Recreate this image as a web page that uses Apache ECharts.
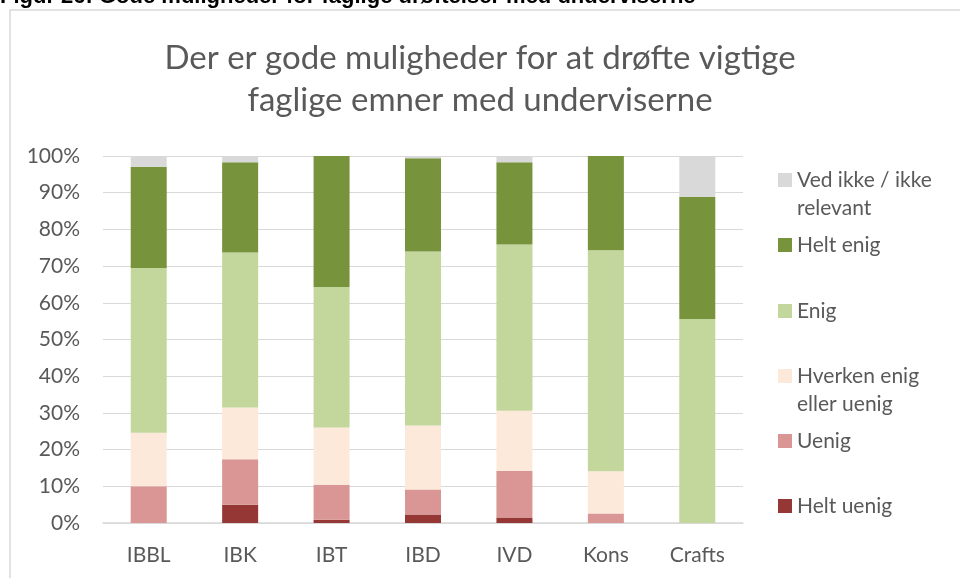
<!DOCTYPE html>
<html lang="da">
  <head>
    <meta charset="UTF-8" />
    <title>Gode muligheder for faglige drøftelser</title>
    <script src="https://cdn.jsdelivr.net/npm/echarts@6/dist/echarts.min.js"></script>
    <style>
      html, body { margin: 0; padding: 0; background: #fff; }
      #main { width: 960px; height: 578px; }
    </style>
  </head>
  <body>
    <div id="main"></div>
    <script>
      var categories = ['IBBL', 'IBK', 'IBT', 'IBD', 'IVD', 'Kons', 'Crafts'];
      // andele i procent
      var heltUenig = [0, 5.0, 0.9, 2.3, 1.5, 0, 0];
      var uenig = [10.0, 12.4, 9.5, 6.8, 12.7, 2.6, 0];
      var hverken = [14.6, 14.1, 15.6, 17.5, 16.4, 11.5, 0];
      var enig = [44.9, 42.2, 38.3, 47.4, 45.3, 60.2, 55.6];
      var heltEnig = [27.6, 24.6, 35.7, 25.4, 22.4, 25.7, 33.3];
      var vedIkke = [2.9, 1.7, 0, 0.6, 1.7, 0, 11.1];
      var yTicks = [0, 10, 20, 30, 40, 50, 60, 70, 80, 90, 100];

      var font = 'Lato, "Open Sans", sans-serif';
      var grey = '#595959';

      var seriesDefs = [
        { name: 'Helt uenig', data: heltUenig, color: '#953735' },
        { name: 'Uenig', data: uenig, color: '#D99694' },
        { name: 'Hverken enig\neller uenig', data: hverken, color: '#FDE9D9' },
        { name: 'Enig', data: enig, color: '#C3D69B' },
        { name: 'Helt enig', data: heltEnig, color: '#77933C' },
        { name: 'Ved ikke / ikke\nrelevant', data: vedIkke, color: '#D9D9D9' },
      ];

      // midten af legendens ikon (y) for hver serie
      var legendCenters = {
        'Ved ikke / ikke\nrelevant': 180,
        'Helt enig': 245,
        'Enig': 311,
        'Hverken enig\neller uenig': 376,
        'Uenig': 441,
        'Helt uenig': 506,
      };

      var legends = seriesDefs.map(function (s) {
        var twoLines = s.name.indexOf('\n') >= 0;
        return {
          data: [s.name],
          left: 778,
          top: twoLines ? legendCenters[s.name] - 42 : legendCenters[s.name] - 14,
          padding: 0,
          itemWidth: 14,
          itemHeight: 14,
          itemGap: 5,
          icon: 'rect',
          selectedMode: false,
          // tom første linje, så første tekstlinje står ud for ikonet
          formatter: function (name) {
            return twoLines ? ' \n' + name : name;
          },
          textStyle: {
            fontFamily: font,
            fontSize: 21,
            color: grey,
            lineHeight: 28,
          },
        };
      });

      var mCharts = echarts.init(document.getElementById('main'));
      var option = {
        animation: false,
        title: [
          {
            text: 'Der er gode muligheder for at drøfte vigtige\nfaglige emner med underviserne',
            left: 'center',
            top: 37,
            padding: 0,
            textStyle: {
              fontFamily: font,
              fontSize: 33,
              fontWeight: 'normal',
              lineHeight: 42,
              color: grey,
            },
          },
          {
            text: 'Figur 26: Gode muligheder for faglige drøftelser med underviserne',
            left: 0,
            top: -14,
            padding: 0,
            textStyle: {
              fontFamily: '"Liberation Sans", Arial, sans-serif',
              fontSize: 22,
              fontWeight: 'bold',
              color: '#000',
            },
          },
        ],
        graphic: [
          {
            type: 'rect',
            z: -10,
            shape: { x: 10, y: 10, width: 1000, height: 700 },
            style: { fill: 'none', stroke: '#D9D9D9', lineWidth: 1.5 },
          },
        ],
        legend: legends,
        grid: {
          left: 103,
          right: 217,
          top: 156,
          bottom: 55,
        },
        xAxis: {
          type: 'category',
          data: categories,
          axisTick: { show: false },
          axisLine: { lineStyle: { color: '#D9D9D9', width: 1.5 } },
          axisLabel: {
            fontFamily: font,
            fontSize: 21,
            color: grey,
            margin: 22,
          },
        },
        yAxis: {
          type: 'value',
          min: yTicks[0],
          max: yTicks[yTicks.length - 1],
          interval: 10,
          axisLine: { show: false },
          axisTick: { show: false },
          splitLine: { lineStyle: { color: '#D9D9D9', width: 1 } },
          axisLabel: {
            formatter: '{value}%',
            fontFamily: font,
            fontSize: 21,
            color: grey,
            margin: 23,
          },
        },
        series: seriesDefs.map(function (s) {
          return {
            name: s.name,
            type: 'bar',
            stack: 'total',
            barWidth: 36,
            data: s.data,
            itemStyle: { color: s.color },
          };
        }),
      };
      mCharts.setOption(option);
    </script>
  </body>
</html>
